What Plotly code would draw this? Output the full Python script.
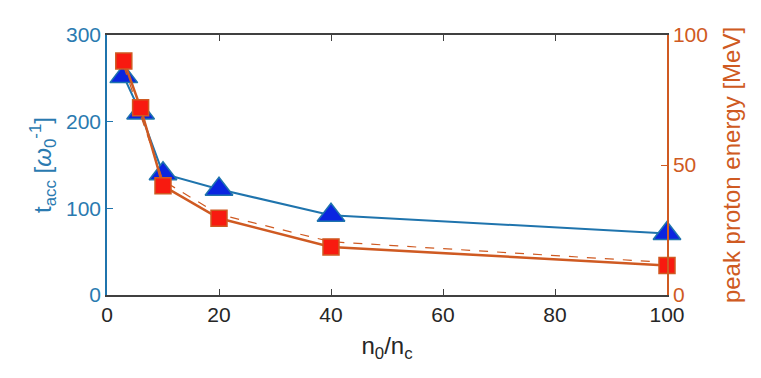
import plotly.graph_objects as go

n_ratio = [3, 6, 10, 20, 40, 100]
t_acc = [252, 210, 140, 122, 92, 71]
peak_energy = [90, 72, 42, 29.5, 18.5, 11.3]
fit_x = [3, 10, 20, 40, 100]
fit_energy = [88, 44, 31, 20.5, 12.5]

blue_line = "#1f74ad"
blue_text = "#2a7ab0"
orange = "#cf5a22"
font = "Liberation Sans, Arial, sans-serif"

fig = go.Figure()
fig.add_trace(go.Scatter(
    x=n_ratio, y=t_acc, mode="lines+markers",
    line=dict(color=blue_line, width=2),
    marker=dict(symbol="triangle-up", size=24, color="#0a25e0",
                line=dict(color=blue_line, width=1.5)),
    cliponaxis=False, showlegend=False))
fig.add_trace(go.Scatter(
    x=fit_x, y=fit_energy, mode="lines", yaxis="y2",
    line=dict(color=orange, width=1.2, dash="dash"),
    showlegend=False))
fig.add_trace(go.Scatter(
    x=n_ratio, y=peak_energy, mode="lines+markers", yaxis="y2",
    line=dict(color=orange, width=2.5),
    marker=dict(symbol="square", size=16, color="#f81a10",
                line=dict(color=orange, width=1.5)),
    cliponaxis=False, showlegend=False))

fig.update_layout(
    width=761, height=378,
    margin=dict(l=99, r=102, t=27, b=91),
    paper_bgcolor="white", plot_bgcolor="white",
    font=dict(family=font, size=21, color="#262626"),
    xaxis=dict(range=[0, 100], tickvals=[0, 20, 40, 60, 80, 100],
               automargin=False,
               showline=True, linecolor="#404040", linewidth=1.5,
               mirror="ticks", ticks="inside", ticklen=6, tickcolor="#404040",
               showgrid=False, zeroline=False,
               tickfont=dict(size=21, color="#262626"),
               title=dict(text="n<sub>0</sub>/n<sub>c</sub>", font=dict(size=24, color="#262626"), standoff=12)),
    yaxis=dict(range=[0, 300], tickvals=[0, 100, 200, 300],
               automargin=False,
               showline=True, linecolor=blue_line, linewidth=1.5,
               ticks="inside", ticklen=6, tickcolor=blue_line,
               showgrid=False, zeroline=False,
               tickfont=dict(size=21, color=blue_text),
               title=dict(text="t<sub>acc</sub> [<i>ω</i><sub>0</sub><sup>-1</sup>]",
                          font=dict(size=24, color=blue_text), standoff=8)),
    yaxis2=dict(range=[0, 100], tickvals=[0, 50, 100], overlaying="y", side="right",
                automargin=False,
                showline=True, linecolor=orange, linewidth=1.5,
                ticks="inside", ticklen=6, tickcolor=orange,
                showgrid=False, zeroline=False,
                tickfont=dict(size=21, color=orange),
                title=dict(text="peak proton energy [MeV]",
                           font=dict(size=24, color=orange), standoff=16)),
)

fig.write_html("out.html")
